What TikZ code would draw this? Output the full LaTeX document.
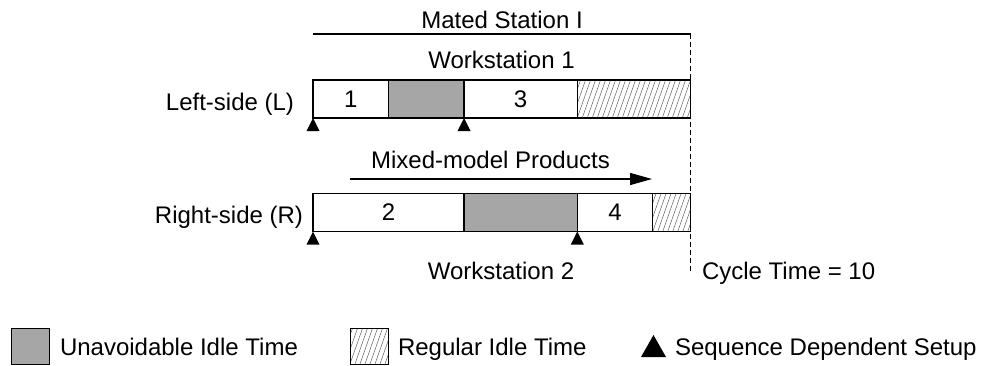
\documentclass[tikz,border=0pt]{standalone}
\usepackage{fontspec}
\setmainfont{Liberation Sans}
\usetikzlibrary{arrows.meta,calc}
\definecolor{idlegray}{RGB}{166,166,166}
\definecolor{hatchgray}{RGB}{95,95,95}

\begin{document}
\begin{tikzpicture}[x=1pt,y=-1pt,
  every node/.style={font=\fontsize{24}{28}\selectfont, inner sep=0pt, outer sep=0pt},
  seg/.style={draw, line width=1.2pt, minimum height=38pt, anchor=west},
  idle/.style={seg, fill=idlegray},
  hatched/.style={seg, path picture={
      \foreach \k in {-45,-40,...,125}
        \draw[hatchgray, line width=0.5pt]
          ([xshift=\k pt]path picture bounding box.south west) -- ++(14,-40);}},
  keybox/.style={line width=1pt, minimum width=38pt, minimum height=36pt},
  setupmark/.style={fill=black},
  guide/.style={line width=1.2pt},
  cycle line/.style={line width=0.8pt, dash pattern=on 5pt off 3pt}
]
\path[use as bounding box] (0,0) rectangle (989,365);

% headings
\node[anchor=base] (mated) at (502,28) {Mated Station I};
\coordinate (ms-a) at (313,34);
\coordinate (ms-b) at (690.5,34);
\draw[guide] (ms-a) -- (ms-b);
\node[anchor=base] (ws1) at (501.5,68) {Workstation 1};

% left side: tasks 1 and 3
\node[anchor=base east] (left) at (294,110) {Left-side (L)};
\node[seg, minimum width=75.5pt] (l1) at (313,99) {1};
\node[idle, minimum width=75.5pt] (l2) at (l1.east) {};
\node[seg, minimum width=113.25pt] (l3) at (l2.east) {3};
\node[hatched, minimum width=113.25pt] (l4) at (l3.east) {};
\fill[setupmark] (l1.south west) -- ++(-6.5,13) -- ++(13,0) -- cycle;
\fill[setupmark] (l3.south west) -- ++(-6.5,13) -- ++(13,0) -- cycle;

% product flow
\node[anchor=base] (flow) at (490.5,168) {Mixed-model Products};
\coordinate (mp-a) at (350,179);
\coordinate (mp-b) at (652,179);
\draw[guide, -{Triangle[length=22pt,width=12pt]}] (mp-a) -- (mp-b);

% right side: tasks 2 and 4
\node[anchor=base east] (right) at (303,223) {Right-side (R)};
\node[seg, minimum width=151pt] (r1) at (313,212.5) {2};
\node[idle, minimum width=113.25pt] (r2) at (r1.east) {};
\node[seg, minimum width=75.5pt] (r3) at (r2.east) {4};
\node[hatched, minimum width=37.75pt] (r4) at (r3.east) {};
\fill[setupmark] (r1.south west) -- ++(-6.5,13) -- ++(13,0) -- cycle;
\fill[setupmark] (r3.south west) -- ++(-6.5,13) -- ++(13,0) -- cycle;

\node[anchor=base] (ws2) at (501,279) {Workstation 2};

% cycle time limit
\coordinate (ct) at (690.5,272);
\draw[cycle line] (ms-b) -- (ct);
\node[anchor=base west] (cycle) at (702,279) {Cycle Time = 10};

% legend
\node[idle, keybox] (key-idle) at (11,346) {};
\node[anchor=base west] (key-idle-txt) at (60,355) {Unavoidable Idle Time};
\node[hatched, keybox] (key-reg) at (350,346) {};
\node[anchor=base west] (key-reg-txt) at (398,355) {Regular Idle Time};
\coordinate (key-setup) at (653.5,335);
\fill[setupmark] (key-setup) -- ++(-12.5,22) -- ++(25,0) -- cycle;
\node[anchor=base west] (key-setup-txt) at (675,355) {Sequence Dependent Setup};
\end{tikzpicture}
\end{document}
